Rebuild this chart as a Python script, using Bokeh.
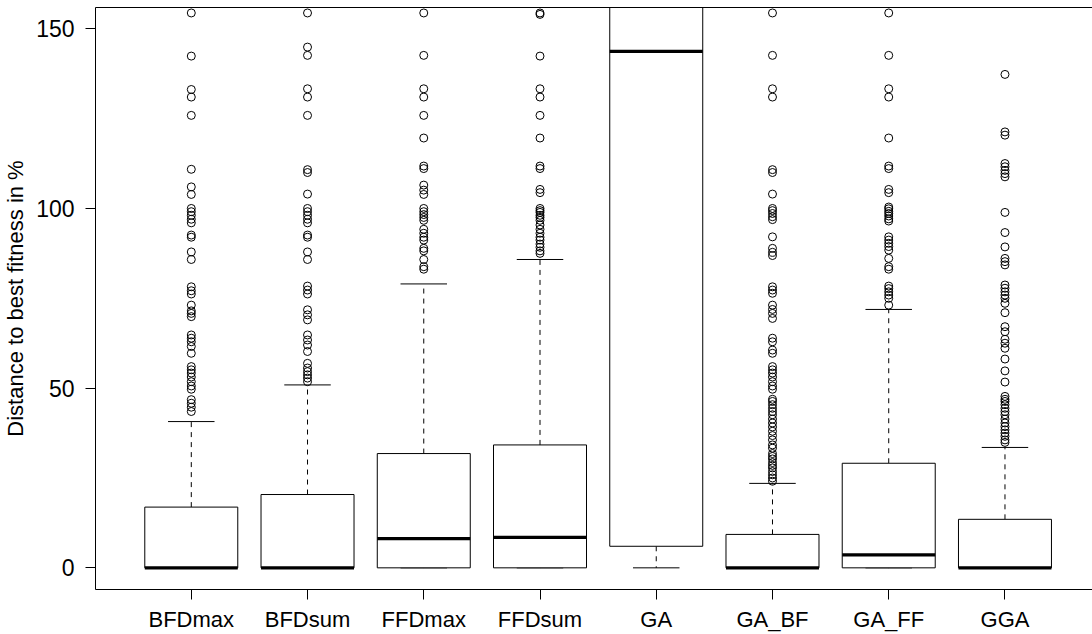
from bokeh.plotting import figure
from bokeh.models import Range1d, FixedTicker, LinearAxis, ColumnDataSource
from bokeh.embed import file_html
from bokeh.resources import INLINE

categories = ["BFDmax", "BFDsum", "FFDmax", "FFDsum", "GA", "GA_BF", "GA_FF", "GGA"]
q1 = [0.0, 0.0, 0.0, 0.0, 6.0, 0.0, 0.0, 0.0]
median = [0.0, 0.0, 8.1, 8.5, 143.7, 0.0, 3.6, 0.0]
q3 = [16.9, 20.4, 31.8, 34.2, 190.0, 9.3, 29.1, 13.5]
lower = [0.0, 0.0, 0.0, 0.0, 0.0, 0.0, 0.0, 0.0]
upper = [40.7, 50.9, 79.0, 85.8, 300.0, 23.5, 71.9, 33.5]

out_BFDmax = [154.4, 142.4, 133.1, 131.0, 125.9, 110.9, 106.0, 103.9, 100.0, 99.1, 98.1, 97.0, 96.0,
              92.6, 92.0, 87.9, 85.8, 78.2, 77.1, 76.2, 73.1, 71.5, 70.8, 69.9, 64.8, 63.9, 62.9, 61.6,
              59.7, 56.0, 55.1, 54.2, 53.1, 51.8, 50.6, 49.7, 46.8, 45.8, 44.7, 43.5]
out_BFDsum = [154.4, 144.9, 142.6, 133.3, 131.0, 125.9, 110.8, 110.0, 104.0, 100.0, 99.1, 98.1, 97.0,
              96.0, 92.6, 92.0, 87.9, 85.8, 78.4, 77.3, 76.2, 71.8, 70.4, 69.0, 64.8, 63.4, 62.0, 60.2,
              56.9, 55.6, 54.6, 53.7, 52.8, 51.8]
out_FFDmax = [154.4, 142.6, 133.3, 131.0, 125.9, 119.6, 111.8, 111.1, 106.5, 105.1, 103.9, 100.0, 99.1,
              98.3, 97.5, 96.7, 94.2, 93.1, 92.0, 91.2, 88.9, 88.2, 85.8, 83.8, 83.1]
out_FFDsum = [154.4, 154.0, 142.4, 133.3, 131.0, 125.9, 119.6, 111.8, 111.1, 105.3, 104.4, 100.0, 99.4,
              98.9, 98.1, 97.5, 96.7, 95.4, 94.2, 93.1, 92.0, 91.2, 90.1, 89.2, 88.2, 87.5]
out_GA = []
out_GA_BF = [154.4, 142.6, 133.3, 131.0, 110.8, 110.0, 104.0, 100.0, 99.4, 98.6, 97.7, 96.9, 92.1, 88.9,
             87.8, 86.9, 78.2, 77.3, 76.4, 73.1, 71.9, 70.8, 69.4, 63.9, 62.9, 60.6, 59.7, 56.0, 55.1,
             54.2, 53.1, 51.8, 50.6, 49.7, 46.9, 46.3, 45.4, 44.4, 43.5, 42.6, 41.4, 40.3, 39.2, 38.0,
             36.8, 35.6, 34.2, 33.3, 31.8, 31.0, 30.3, 29.3, 28.5, 27.8, 26.8, 25.9, 25.0, 24.1]
out_GA_FF = [154.4, 142.6, 133.3, 131.0, 119.6, 111.8, 111.1, 105.3, 104.4, 100.4, 99.9, 99.2, 98.6,
             97.9, 97.1, 96.5, 92.1, 91.2, 90.3, 89.4, 88.4, 86.1, 83.8, 83.1, 78.4, 77.7, 76.8, 75.9,
             75.0, 73.1]
out_GGA = [137.3, 121.3, 120.4, 112.5, 111.6, 110.6, 109.7, 108.8, 98.9, 93.3, 89.3, 86.1, 85.2, 84.3,
           78.7, 77.8, 76.8, 75.9, 75.0, 73.6, 71.0, 67.1, 65.7, 63.6, 62.5, 61.1, 58.1, 54.8, 51.7,
           47.7, 46.9, 46.3, 45.4, 44.4, 43.5, 42.6, 41.4, 40.3, 39.3, 38.4, 37.5, 36.6, 35.6, 34.9]
outliers = [out_BFDmax, out_BFDsum, out_FFDmax, out_FFDsum, out_GA, out_GA_BF, out_GA_FF, out_GGA]

y_ticks = [0, 50, 100, 150]
y_label = "Distance to best fitness in %"

FONT = "Liberation Sans"
FS_X = "22px"
FS_Y = "23px"
FS_LABEL = "22px"

pos = list(range(1, len(categories) + 1))
box_w = 0.8
cap_w = 0.4

src = ColumnDataSource(dict(
    x=pos, q1=q1, med=median, q3=q3, lo=lower, up=upper,
    xl=[x - box_w / 2 for x in pos], xr=[x + box_w / 2 for x in pos],
    cl=[x - cap_w / 2 for x in pos], cr=[x + cap_w / 2 for x in pos],
))

p = figure(width=1092, height=634, x_range=Range1d(0.176, 8.753), y_range=Range1d(-6.03, 155.92),
           output_backend="svg", toolbar_location=None,
           min_border_left=93, min_border_right=0, min_border_top=7, min_border_bottom=44)
p.outline_line_color = None
p.xgrid.visible = False
p.ygrid.visible = False
p.background_fill_color = "white"
p.border_fill_color = "white"

# whiskers
p.segment(x0="x", y0="q3", x1="x", y1="up", source=src, line_color="black", line_width=1, line_dash="5 5")
p.segment(x0="x", y0="q1", x1="x", y1="lo", source=src, line_color="black", line_width=1, line_dash="5 5")
# caps
p.segment(x0="cl", y0="up", x1="cr", y1="up", source=src, line_color="black", line_width=1)
p.segment(x0="cl", y0="lo", x1="cr", y1="lo", source=src, line_color="black", line_width=1)
# boxes
p.vbar(x="x", bottom="q1", top="q3", width=box_w, source=src, fill_color="white",
       line_color="black", line_width=1)
# medians
p.segment(x0="xl", y0="med", x1="xr", y1="med", source=src, line_color="black", line_width=3.2)

# outliers
ox, oy = [], []
for x, vals in zip(pos, outliers):
    for v in vals:
        ox.append(x)
        oy.append(v)
p.scatter(ox, oy, marker="circle", size=8, fill_color=None, line_color="black", line_width=1)

# axes
xa = p.xaxis[0]
xa.ticker = FixedTicker(ticks=pos)
xa.major_label_overrides = {x: c for x, c in zip(pos, categories)}
xa.minor_tick_line_color = None
xa.major_tick_out = 10
xa.major_tick_in = 0
xa.major_label_standoff = 7
xa.major_label_text_font = FONT
xa.major_label_text_font_size = FS_X
xa.major_label_text_color = "black"
xa.axis_line_color = "black"
xa.major_tick_line_color = "black"

ya = p.yaxis[0]
ya.ticker = FixedTicker(ticks=y_ticks)
ya.minor_tick_line_color = None
ya.major_tick_out = 10
ya.major_tick_in = 0
ya.major_label_standoff = 11
ya.major_label_text_font = FONT
ya.major_label_text_font_size = FS_Y
ya.major_label_text_color = "black"
ya.axis_line_color = "black"
ya.major_tick_line_color = "black"
ya.axis_label = y_label
ya.axis_label_text_font = FONT
ya.axis_label_text_font_size = FS_LABEL
ya.axis_label_text_font_style = "normal"
ya.axis_label_text_color = "black"
ya.axis_label_standoff = 5

top = LinearAxis(ticker=FixedTicker(ticks=[]), major_tick_out=0, major_tick_in=0,
                 minor_tick_out=0, minor_tick_in=0, major_label_standoff=0,
                 major_label_text_font_size="0px", axis_line_color="black")
p.add_layout(top, "above")

open("out.html", "w").write(file_html(p, INLINE))
